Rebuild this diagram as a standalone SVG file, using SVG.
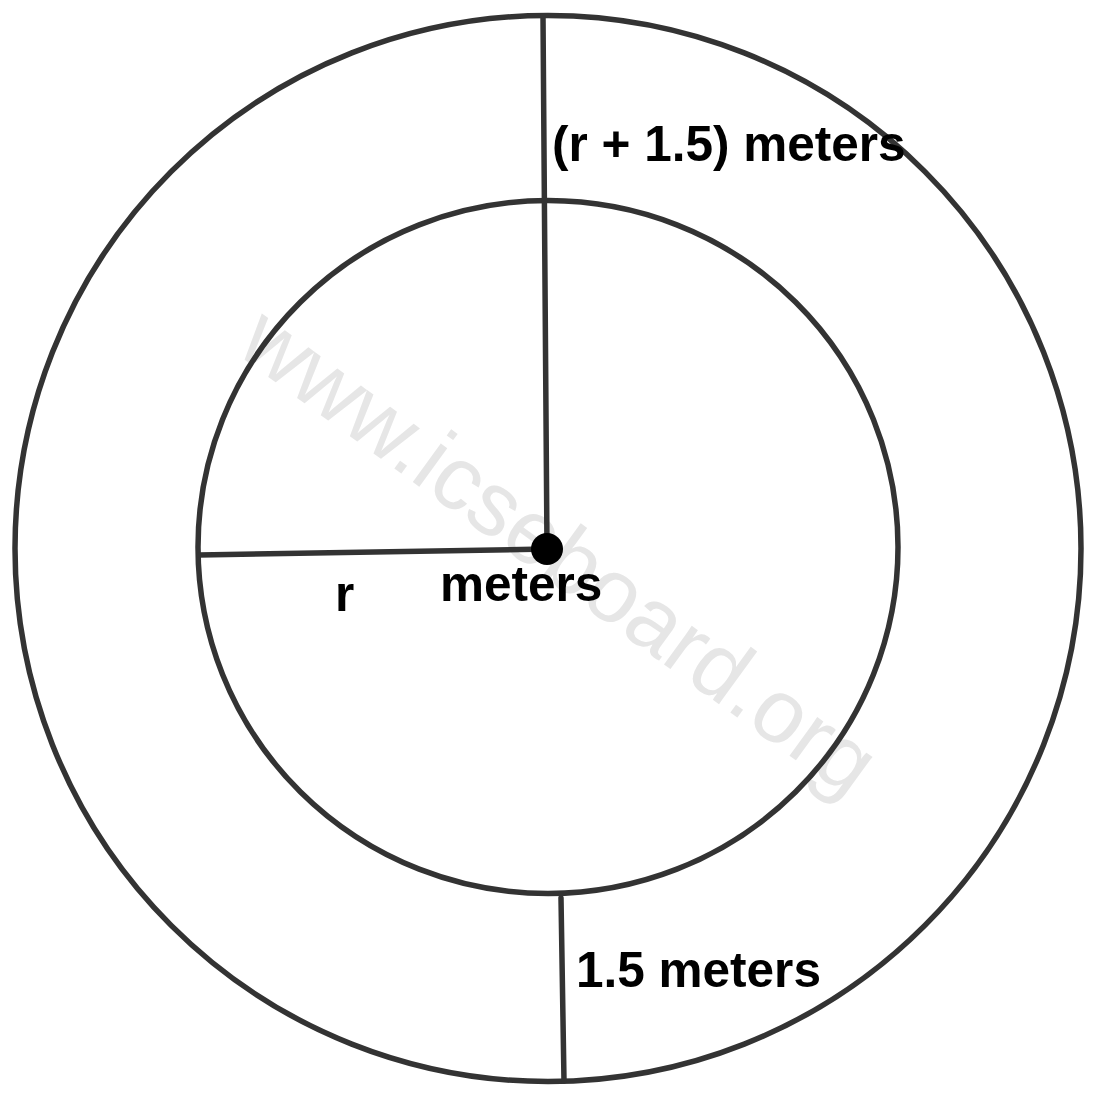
<svg xmlns="http://www.w3.org/2000/svg" width="1099" height="1102" viewBox="0 0 1099 1102">
<style>
.ring{fill:none;stroke:#333;stroke-width:5.5}
.conn{stroke:#333;stroke-width:5.5;stroke-linecap:round;fill:none}
.lbl{font-family:"Liberation Sans",Arial,sans-serif;font-weight:bold;font-size:49.5px;fill:#000}
.wm{font-family:"Liberation Sans",Arial,sans-serif;font-size:90px;fill:#e6e6e6}
</style>
<rect width="1099" height="1102" fill="#fff"/>
<text class="wm" transform="translate(234,352) rotate(36)">www.icseboard.org</text>
<g id="outer-circle"><ellipse class="ring" cx="548" cy="548.5" rx="533" ry="533"/></g>
<g id="inner-circle"><ellipse class="ring" cx="548" cy="547" rx="350" ry="346.5"/></g>
<g id="connectors">
<line class="conn" x1="543" y1="16" x2="547" y2="549"/>
<line class="conn" x1="199" y1="555" x2="547" y2="549"/>
<line class="conn" x1="561" y1="898" x2="564" y2="1081"/>
</g>
<g id="center"><circle cx="547" cy="549" r="16" fill="#000"/></g>
<g id="labels">
<text class="lbl" x="552" y="161">(r + 1.5) meters</text>
<text class="lbl" x="440" y="601">meters</text>
<text class="lbl" x="335" y="611">r</text>
<text class="lbl" x="576" y="987">1.5 meters</text>
</g>
</svg>
